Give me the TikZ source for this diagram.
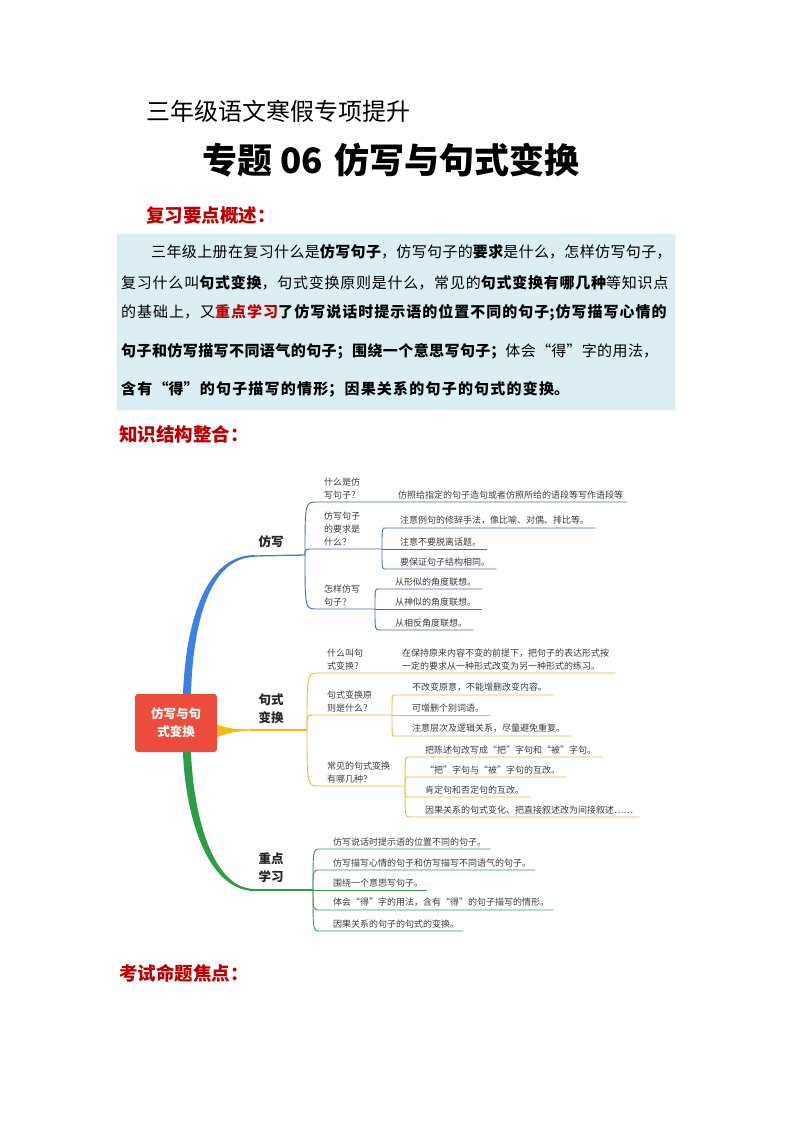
\documentclass[tikz,border=0pt]{standalone}
\usepackage{fontspec}
\setmainfont{Noto Sans CJK SC}
\usetikzlibrary{positioning,calc}
\XeTeXlinebreaklocale "zh"
\XeTeXlinebreakskip=0pt plus 4pt
\definecolor{titlered}{RGB}{192,0,0}
\definecolor{boxblue}{RGB}{219,238,243}
\definecolor{rootred}{RGB}{237,76,60}
\definecolor{mainblue}{RGB}{60,128,224}
\definecolor{subblue}{RGB}{62,110,178}
\definecolor{mainyellow}{RGB}{246,185,20}
\definecolor{subyellow}{RGB}{236,188,48}
\definecolor{maingreen}{RGB}{45,156,70}
\definecolor{subgreen}{RGB}{60,150,80}
\definecolor{inkgray}{RGB}{60,60,60}

\begin{document}
\begin{tikzpicture}[
    x=1pt, y=-1pt,
    heading/.style={anchor=west, inner sep=0, text=titlered, font=\fontsize{18.5}{20}\selectfont\bfseries},
    boxline/.style={anchor=west, inner sep=0, font=\fontsize{15}{18}\selectfont},
    root/.style={rectangle, rounded corners=3pt, fill=rootred, text=white, minimum width=82pt,
                 minimum height=58pt, align=center, font=\fontsize{12.5}{18}\selectfont\bfseries},
    branch/.style={inner sep=0, align=left, text=black!85, font=\fontsize{12.5}{18}\selectfont\bfseries},
    leaf/.style={anchor=south west, inner xsep=0, inner ysep=3pt, align=left, text=inkgray,
                 font=\fontsize{9}{13}\selectfont},
    brk/.style={to path={.. controls (\tikztostart |- \tikztotarget) .. (\tikztotarget)}},
    bline/.style={draw=subblue, line width=0.9pt},
    yline/.style={draw=subyellow, line width=0.9pt},
    gline/.style={draw=subgreen, line width=0.9pt}
  ]
  \useasboundingbox (0,0) rectangle (794,1123);

  % Page titles
  \node[anchor=west, inner sep=0, font=\fontsize{24}{26}\selectfont] (title) at (146,111) {三年级语文寒假专项提升};
  \node[inner sep=0, font=\fontsize{35}{38}\selectfont\bfseries] (topic) at (391,160) {专题 06\hspace{12pt}仿写与句式变换};
  \node[heading] (review) at (146,215) {复习要点概述：};

  % Summary box
  \fill[boxblue] (117,234) rectangle (675,410);
  \node[boxline, text width=553pt] (p1) at (121,252) {\noindent\parfillskip=0pt\hspace*{2em}三年级上册在复习什么是\textbf{仿写句子}，仿写句子的\textbf{要求}是什么，怎样仿写句子，\par};
  \node[boxline, text width=553pt] (p2) at (121,283) {\noindent\parfillskip=0pt 复习什么叫\textbf{句式变换}，句式变换原则是什么，常见的\textbf{句式变换有哪几种}等知识点\par};
  \node[boxline, text width=553pt] (p3) at (121,313) {\noindent\parfillskip=0pt 的基础上，又\textcolor{titlered}{\textbf{重点学习}}\textbf{了仿写说话时提示语的位置不同的句子;仿写描写心情的}\par};
  \node[boxline, text width=540pt] (p4) at (121,351) {\noindent\parfillskip=0pt \textbf{句子和仿写描写不同语气的句子；围绕一个意思写句子；}体会“得”字的用法，\par};
  \node[boxline, text width=457pt] (p5) at (121,389) {\noindent\parfillskip=0pt \textbf{含有“得”的句子描写的情形；因果关系的句子的句式的变换。}\par};

  \node[heading] (structure) at (119,434) {知识结构整合：};
  \node[heading] (focus) at (119,973) {考试命题焦点：};

  % Root and main branches
  \node[root] (root) at (176,723) {仿写与句\\式变换};
  \node[branch] (m1) at (271,542) {仿写};
  \node[branch] (m2) at (271,709) {句式\\变换};
  \node[branch] (m3) at (271,868) {重点\\学习};
  \coordinate (j1) at (305,555);
  \coordinate (j2) at (307,730);
  \coordinate (j3) at (313,890);
  \coordinate (e1) at (255,556);
  \coordinate (e2) at (250,730);
  \coordinate (e3) at (255,890);

  \fill[mainblue] ([xshift=7pt]root.north) .. controls (186,620) and (206,555) .. (255,555)
      -- (255,557) .. controls (210,557) and (193,622) .. ([xshift=15pt]root.north) -- cycle;
  \draw[mainblue, line width=1.3pt] (e1) -- (j1);
  \fill[mainyellow] ([yshift=-2pt]root.east) .. controls (232,729) .. (250,729.4)
      -- (250,730.6) .. controls (232,732) .. ([yshift=-14pt]root.east) -- cycle;
  \draw[mainyellow, line width=1.2pt] (e2) -- (j2);
  \fill[maingreen] ([xshift=7pt]root.south) .. controls (185,810) and (205,891) .. (255,891)
      -- (255,889) .. controls (210,889) and (193,808) .. ([xshift=15pt]root.south) -- cycle;
  \draw[maingreen, line width=1.3pt] (e3) -- (j3);

  % Branch 1: imitation
  \coordinate (a11) at (317,502);
  \node[leaf] (s11) at (324,502) {什么是仿\\写句子？};
  \node[leaf] (l111) at (398,502) {仿照给指定的句子造句或者仿照所给的语段等写作语段等};
  \draw[bline] (j1) to[brk] (a11) -- ([xshift=4pt]l111.south east);

  \coordinate (a12) at (313,549);
  \coordinate (j12) at (382,549);
  \node[leaf] (s12) at (324,549) {仿写句子\\的要求是\\什么？};
  \draw[bline] (j1) to[brk] (a12) -- (j12);
  \coordinate (a121) at (385,528);
  \coordinate (a123) at (385,569);
  \node[leaf] (l121) at (400,528) {注意例句的修辞手法，像比喻、对偶、排比等。};
  \node[leaf] (l122) at (400,549) {注意不要脱离话题。};
  \node[leaf] (l123) at (400,569) {要保证句子结构相同。};
  \draw[bline] (j12) to[brk] (a121) -- ([xshift=6pt]l121.south east);
  \draw[bline] (j12) -- ([xshift=6pt]l122.south east);
  \draw[bline] (j12) to[brk] (a123) -- ([xshift=6pt]l123.south east);

  \coordinate (a13) at (317,609);
  \coordinate (j13) at (375,609);
  \node[leaf] (s13) at (324,609) {怎样仿写\\句子？};
  \draw[bline] (j1) to[brk] (a13) -- (j13);
  \coordinate (a131) at (378,589);
  \coordinate (a133) at (380,630);
  \node[leaf] (l131) at (395,589) {从形似的角度联想。};
  \node[leaf] (l132) at (395,609) {从神似的角度联想。};
  \node[leaf] (l133) at (395,630) {从相反角度联想。};
  \draw[bline] (j13) to[brk] (a131) -- ([xshift=6pt]l131.south east);
  \draw[bline] (j13) -- ([xshift=6pt]l132.south east);
  \draw[bline] (j13) to[brk] (a133) -- ([xshift=6pt]l133.south east);

  % Branch 2: sentence transformation
  \coordinate (a21) at (318,673);
  \node[leaf] (s21) at (327,673) {什么叫句\\式变换？};
  \node[leaf] (l211) at (402,673) {在保持原来内容不变的前提下，把句子的表达形式按\\一定的要求从一种形式改变为另一种形式的练习。};
  \draw[yline] (j2) to[brk] (a21) -- ([xshift=6pt]l211.south east);

  \coordinate (a22) at (313,715);
  \coordinate (j22) at (392,715);
  \node[leaf] (s22) at (327,715) {句式变换原\\则是什么？};
  \draw[yline] (j2) to[brk] (a22) -- (j22);
  \coordinate (a221) at (394,695);
  \coordinate (a223) at (394,736);
  \node[leaf] (l221) at (412,695) {不改变原意，不能增删改变内容。};
  \node[leaf] (l222) at (412,715) {可增删个别词语。};
  \node[leaf] (l223) at (412,736) {注意层次及逻辑关系，尽量避免重复。};
  \draw[yline] (j22) to[brk] (a221) -- ([xshift=6pt]l221.south east);
  \draw[yline] (j22) -- ([xshift=6pt]l222.south east);
  \draw[yline] (j22) to[brk] (a223) -- ([xshift=6pt]l223.south east);

  \coordinate (a23) at (320,786);
  \coordinate (j23) at (405,786);
  \node[leaf] (s23) at (327,786) {常见的句式变换\\有哪几种？};
  \draw[yline] (j2) to[brk] (a23) -- (j23);
  \coordinate (a231) at (408,757);
  \coordinate (a232) at (408,777);
  \coordinate (a233) at (408,797);
  \coordinate (a234) at (410,817);
  \node[leaf] (l231) at (425,757) {把陈述句改写成“把”字句和“被”字句。};
  \node[leaf] (l232) at (425,777) {“把”字句与“被”字句的互改。};
  \node[leaf] (l233) at (425,797) {肯定句和否定句的互改。};
  \node[leaf] (l234) at (425,817) {因果关系的句式变化、把直接叙述改为间接叙述……};
  \draw[yline] (j23) to[brk] (a231) -- ([xshift=6pt]l231.south east);
  \draw[yline] (j23) to[brk] (a232) -- ([xshift=6pt]l232.south east);
  \draw[yline] (j23) to[brk] (a233) -- ([xshift=6pt]l233.south east);
  \draw[yline] (j23) to[brk] (a234) -- ([xshift=6pt]l234.south east);

  % Branch 3: key points
  \coordinate (a31) at (320,849);
  \coordinate (a32) at (320,870);
  \coordinate (a34) at (320,910);
  \coordinate (a35) at (320,931);
  \node[leaf] (l31) at (333,849) {仿写说话时提示语的位置不同的句子。};
  \node[leaf] (l32) at (333,870) {仿写描写心情的句子和仿写描写不同语气的句子。};
  \node[leaf] (l33) at (333,890) {围绕一个意思写句子。};
  \node[leaf] (l34) at (333,910) {体会“得”字的用法，含有“得”的句子描写的情形。};
  \node[leaf] (l35) at (333,931) {因果关系的句子的句式的变换。};
  \draw[gline] (j3) to[brk] (a31) -- ([xshift=4pt]l31.south east);
  \draw[gline] (j3) to[brk] (a32) -- ([xshift=4pt]l32.south east);
  \draw[gline] (j3) -- ([xshift=4pt]l33.south east);
  \draw[gline] (j3) to[brk] (a34) -- ([xshift=4pt]l34.south east);
  \draw[gline] (j3) to[brk] (a35) -- ([xshift=4pt]l35.south east);
\end{tikzpicture}
\end{document}
